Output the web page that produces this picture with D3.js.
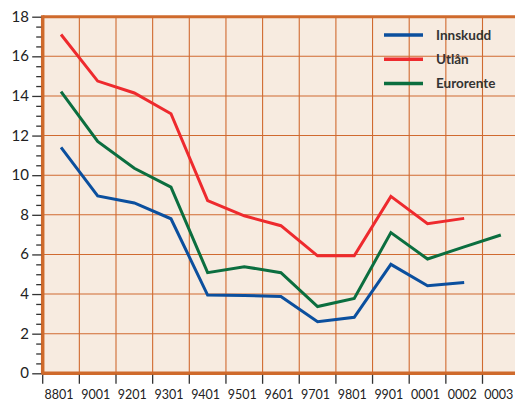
<!DOCTYPE html>
<html>
<head>
<meta charset="utf-8">
<script src="https://cdn.jsdelivr.net/npm/d3@7"></script>
<style>
  body { margin: 0; background: #fff; }
  svg { display: block; }
</style>
</head>
<body>
<script>
const periods = ["8801", "9001", "9201", "9301", "9401", "9501", "9601", "9701", "9801", "9901", "0001", "0002", "0003"];
const innskudd = [11.4, 8.95, 8.6, 7.8, 3.95, 3.93, 3.88, 2.6, 2.83, 5.5, 4.42, 4.58];
const utlan = [17.1, 14.75, 14.15, 13.1, 8.72, 7.95, 7.45, 5.93, 5.93, 8.93, 7.55, 7.82];
const eurorente = [14.22, 11.7, 10.35, 9.4, 5.08, 5.38, 5.08, 3.37, 3.78, 7.1, 5.77, 6.38, 6.98];
const yTicks = [0, 2, 4, 6, 8, 10, 12, 14, 16, 18];

const series = [
  { name: "Innskudd", values: innskudd, color: "#0b4f9e" },
  { name: "Utlån", values: utlan, color: "#ee2a2e" },
  { name: "Eurorente", values: eurorente, color: "#0b6e3f" }
];

const width = 515, height = 402;
const plotLeft = 42.7, bandW = 36.65;
const plotTop = 16.7, plotBottom = 373.3;

const svg = d3.select("body").append("svg")
  .attr("width", width)
  .attr("height", height);

const x = d3.scaleBand()
  .domain(periods)
  .range([plotLeft, plotLeft + bandW * periods.length])
  .paddingInner(0).paddingOuter(0);

const y = d3.scaleLinear()
  .domain([0, 18])
  .range([plotBottom, plotTop]);

// plot background
svg.append("rect")
  .attr("x", plotLeft).attr("y", plotTop)
  .attr("width", x.range()[1] - plotLeft)
  .attr("height", plotBottom - plotTop)
  .attr("fill", "#f7ebe0");

// grid
const grid = svg.append("g").attr("stroke", "#d06a30").attr("stroke-width", 1.1);
grid.selectAll("line.h")
  .data(yTicks.slice(1, -1))
  .join("line")
    .attr("x1", plotLeft).attr("x2", width)
    .attr("y1", d => y(d)).attr("y2", d => y(d));
grid.selectAll("line.v")
  .data(periods.slice(1))
  .join("line")
    .attr("x1", d => x(d)).attr("x2", d => x(d))
    .attr("y1", plotTop).attr("y2", plotBottom);

// frame
svg.append("line")
  .attr("x1", plotLeft).attr("x2", width)
  .attr("y1", plotTop).attr("y2", plotTop)
  .attr("stroke", "#cf6a2c").attr("stroke-width", 3);
svg.append("line")
  .attr("x1", plotLeft).attr("x2", width)
  .attr("y1", plotBottom).attr("y2", plotBottom)
  .attr("stroke", "#cf6a2c").attr("stroke-width", 3.5);
svg.append("line")
  .attr("x1", plotLeft).attr("x2", plotLeft)
  .attr("y1", plotTop - 1.5).attr("y2", plotBottom + 1.5)
  .attr("stroke", "#cf6a2c").attr("stroke-width", 3.5);

// y axis
const yAxis = d3.axisLeft(y)
  .tickValues(d3.range(0, 18.01, 0.5))
  .tickSize(0)
  .tickFormat("");
const yg = svg.append("g").attr("transform", `translate(${plotLeft - 1.5},0)`).call(yAxis);
yg.select(".domain").remove();
yg.selectAll(".tick line")
  .attr("x2", d => d % 2 === 0 ? -9 : -5)
  .attr("stroke", "#333").attr("stroke-width", 1.3);
svg.append("g")
  .selectAll("text")
  .data(yTicks)
  .join("text")
    .attr("x", 29).attr("y", d => y(d) + 5)
    .attr("text-anchor", "end")
    .attr("font-family", "Lato, sans-serif")
    .attr("font-size", 15)
    .attr("fill", "#222")
    .text(d => d);

// x axis
const xg = svg.append("g").attr("transform", `translate(0,${plotBottom + 1.5})`)
  .call(d3.axisBottom(x).tickSize(0).tickFormat(""));
xg.select(".domain").remove();
xg.selectAll(".tick").remove();
xg.selectAll("line.t")
  .data(periods)
  .join("line")
    .attr("x1", d => x(d)).attr("x2", d => x(d))
    .attr("y1", 0).attr("y2", 9)
    .attr("stroke", "#333").attr("stroke-width", 1.3);
xg.selectAll("text.l")
  .data(periods)
  .join("text")
    .attr("x", d => x(d) + x.bandwidth() / 2 - 2)
    .attr("y", 24)
    .attr("text-anchor", "middle")
    .attr("font-family", "Lato, sans-serif")
    .attr("font-size", 12.5)
    .attr("fill", "#222")
    .text(d => d);

// lines
const line = d3.line()
  .x((d, i) => x(periods[i]) + x.bandwidth() / 2)
  .y(d => y(d));
svg.append("g")
  .selectAll("path")
  .data(series)
  .join("path")
    .attr("d", d => line(d.values))
    .attr("fill", "none")
    .attr("stroke", d => d.color)
    .attr("stroke-width", 3)
    .attr("stroke-linejoin", "miter");

// legend
const legend = svg.append("g").attr("transform", "translate(384,35)");
const item = legend.selectAll("g")
  .data(series)
  .join("g")
    .attr("transform", (d, i) => `translate(0,${i * 24.3})`);
item.append("line")
  .attr("x1", 0).attr("x2", 39)
  .attr("stroke", d => d.color)
  .attr("stroke-width", 3.5);
item.append("text")
  .attr("x", 52).attr("y", 4.5)
  .attr("font-family", "Lato, sans-serif")
  .attr("font-weight", "bold")
  .attr("font-size", 13.5)
  .attr("fill", "#333")
  .text(d => d.name);
</script>
</body>
</html>
